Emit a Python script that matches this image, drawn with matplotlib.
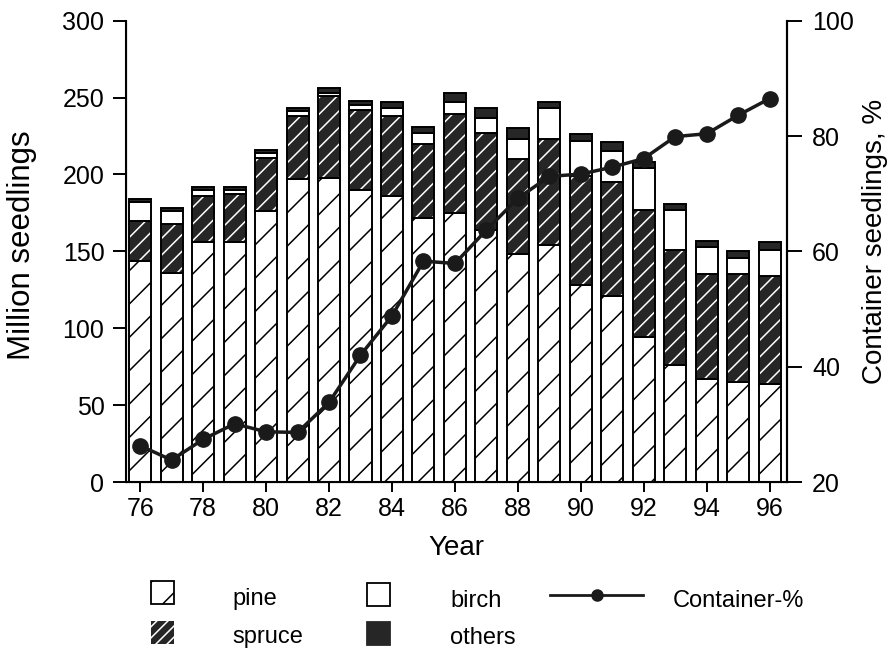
import numpy as np
import matplotlib
matplotlib.use("Agg")
import matplotlib.pyplot as plt
from matplotlib.patches import Rectangle
from matplotlib.lines import Line2D

years = [76, 77, 78, 79, 80, 81, 82, 83, 84, 85, 86,
         87, 88, 89, 90, 91, 92, 93, 94, 95, 96]
pine = [144, 136, 156, 156, 176, 197, 198, 190, 186, 172, 175,
        164, 148, 154, 128, 121, 94, 76, 67, 65, 64]
spruce = [26, 32, 30, 31, 35, 41, 53, 52, 52, 48, 64,
          63, 62, 69, 71, 74, 83, 75, 68, 70, 70]
birch = [12, 8, 4, 3, 3, 3, 2, 3, 5, 7, 8,
         10, 13, 20, 23, 20, 27, 26, 18, 11, 17]
others = [2, 2, 2, 2, 2, 2, 3, 3, 4, 4, 6,
          6, 7, 4, 4, 6, 4, 4, 4, 4, 5]
container_pct = [26.3, 23.8, 27.4, 30.1, 28.7, 28.6, 33.8, 42.0, 48.8, 58.3, 57.9,
                 63.7, 69.2, 73.0, 73.4, 74.6, 76.1, 79.9, 80.4, 83.6, 86.5]
xtick_years = [76, 78, 80, 82, 84, 86, 88, 90, 92, 94, 96]

plt.rcParams["font.family"] = ["Liberation Sans", "DejaVu Sans"]
plt.rcParams["hatch.linewidth"] = 1.1

W, H = 895, 649
fig = plt.figure(figsize=(W / 100, H / 100), dpi=100)


def fx(px):
    return px / W


def fy(py):
    return 1 - py / H


ax = fig.add_axes([fx(126), fy(482), fx(787) - fx(126), fy(20.7) - fy(482)])

x = np.array(years)
pine = np.array(pine)
spruce = np.array(spruce)
birch = np.array(birch)
others = np.array(others)
bw = 0.7
elw = 1.4
dark = "#262626"

ax.bar(x, pine, bw, color="white", edgecolor="black", hatch="/", lw=elw)
ax.bar(x, spruce, bw, bottom=pine, color=dark, edgecolor="white", hatch="//", lw=0)
ax.bar(x, spruce, bw, bottom=pine, color="none", edgecolor="black", lw=elw)
ax.bar(x, birch, bw, bottom=pine + spruce, color="white", edgecolor="black", lw=elw)
ax.bar(x, others, bw, bottom=pine + spruce + birch, color=dark, edgecolor="black", lw=elw)

tick_fs = 18
lab_fs = 20
ax.set_xlim(75.55, 96.55)
ax.set_ylim(0, 300)
ax.set_xticks(xtick_years)
ax.set_xticklabels([str(y) for y in xtick_years])
ax.set_yticks([0, 50, 100, 150, 200, 250, 300])
ax.tick_params(axis="y", direction="out", length=9.5, width=1.4, labelsize=tick_fs, pad=6)
ax.tick_params(axis="x", direction="out", length=7, width=1.4, labelsize=tick_fs, pad=4)
ax.spines["top"].set_visible(False)
for s in ["left", "bottom", "right"]:
    ax.spines[s].set_linewidth(1.5)
ax.set_ylabel("Million seedlings", fontsize=22.5)
ax.yaxis.set_label_coords(-0.135, 0.514)
ax.set_xlabel("Year", fontsize=lab_fs, labelpad=10)

ax2 = ax.twinx()
ax2.plot(x, container_pct, color="#1a1a1a", lw=2.5, marker="o", ms=11,
         markerfacecolor="#1a1a1a", markeredgecolor="#1a1a1a")
ax2.set_ylim(20, 100)
ax2.set_yticks([20, 40, 60, 80, 100])
ax2.tick_params(axis="y", direction="out", length=11, width=1.4, labelsize=tick_fs, pad=7)
ax2.spines["top"].set_visible(False)
ax2.spines["right"].set_linewidth(1.5)
ax2.set_ylabel("Container seedlings, %", fontsize=lab_fs)
ax2.yaxis.set_label_coords(1.113, 0.522)

# legend drawn by hand below the axes
bx, by, bwid, bht = 151, 581, 23, 23
fig.patches.append(Rectangle((fx(bx), fy(by + bht)), fx(bwid), bht / H, transform=fig.transFigure,
                             facecolor="white", edgecolor="black", hatch="/", lw=1.3))
fig.patches.append(Rectangle((fx(bx), fy(by + 40 + bht)), fx(bwid), bht / H, transform=fig.transFigure,
                             facecolor=dark, edgecolor="white", hatch="///", lw=0))
fig.patches.append(Rectangle((fx(367), fy(by + 2 + bht)), fx(bwid), bht / H, transform=fig.transFigure,
                             facecolor="white", edgecolor="black", lw=1.3))
fig.patches.append(Rectangle((fx(367), fy(by + 41 + bht)), fx(bwid), bht / H, transform=fig.transFigure,
                             facecolor=dark, edgecolor=dark, lw=1.3))
fig.lines.append(Line2D([fx(550), fx(643)], [fy(595), fy(595)], transform=fig.transFigure,
                        color="#1a1a1a", lw=2))
fig.lines.append(Line2D([fx(597)], [fy(595)], transform=fig.transFigure,
                        color="#1a1a1a", marker="o", ms=8))
fs = 17
fig.text(fx(232), fy(599), "pine", fontsize=fs, va="center")
fig.text(fx(232), fy(637), "spruce", fontsize=fs, va="center")
fig.text(fx(450), fy(601), "birch", fontsize=fs, va="center")
fig.text(fx(450), fy(638), "others", fontsize=fs, va="center")
fig.text(fx(673), fy(601), "Container-%", fontsize=fs, va="center")

fig.savefig("out.png", dpi=100)
